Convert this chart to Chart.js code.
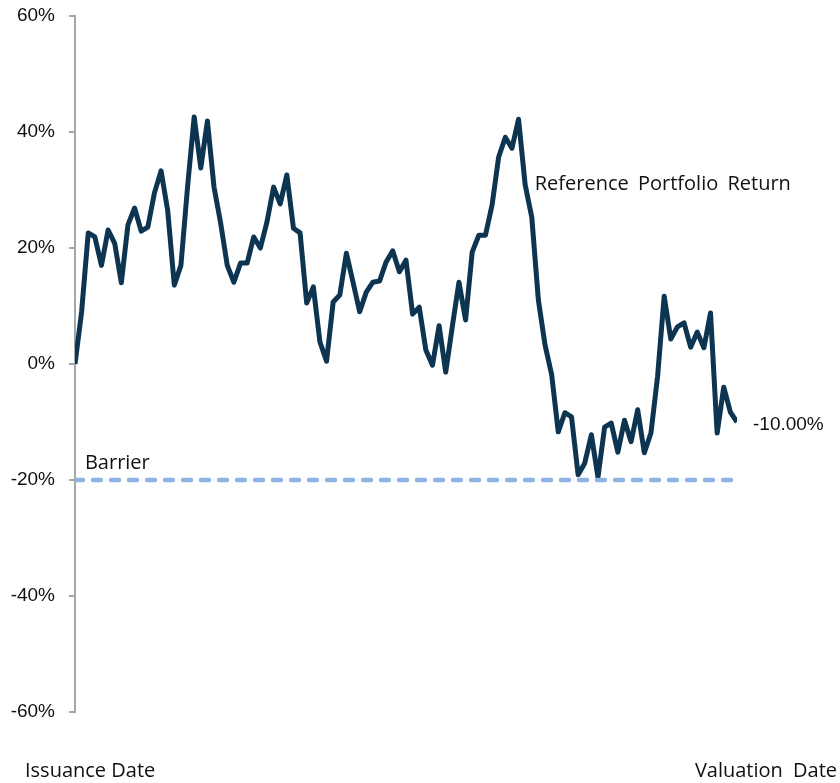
<!DOCTYPE html>
<html>
<head>
<meta charset="utf-8">
<script src="https://cdn.jsdelivr.net/npm/chart.js@4"></script>
<style>
  html, body { margin: 0; padding: 0; background: #fff; }
  #wrap { width: 840px; height: 783px; position: relative; }
</style>
</head>
<body>
<div id="wrap"><canvas id="chart"></canvas></div>
<script>
// Reference portfolio return path, issuance (0) to valuation (100), in %
const returns = [
    0, 9, 22.6, 21.9, 17, 23.1, 20.8, 14, 24, 26.9,
    22.9, 23.6, 29.5, 33.3, 26.5, 13.6, 17, 30.5, 42.6, 33.8,
    41.9, 30.5, 24.3, 17, 14.1, 17.4, 17.4, 21.9, 20, 24.5,
    30.5, 27.6, 32.6, 23.4, 22.6, 10.5, 13.3, 3.8, 0.5, 10.7,
    11.9, 19.1, 14.1, 9.0, 12.4, 14.1, 14.3, 17.6, 19.5, 15.9,
    17.9, 8.6, 9.8, 2.4, -0.2, 6.6, -1.4, 6.5, 14.1, 7.6,
    19.3, 22.2, 22.2, 27.4, 35.7, 39.1, 37.2, 42.2, 30.9, 25.3,
    11, 3.3, -1.8, -11.7, -8.4, -9.1, -19.1, -17.1, -12.2, -19.5,
    -10.9, -10.2, -15.2, -9.7, -13.4, -7.9, -15.3, -11.9, -2.2, 11.7,
    4.3, 6.4, 7.1, 2.9, 5.5, 2.8, 8.8, -11.9, -4.0, -8.3, -10
];
const barrierLevel = -20;
const yTicks = [-60, -40, -20, 0, 20, 40, 60];
const seriesLabel = 'Reference Portfolio Return';
const barrierLabel = 'Barrier';
const startLabel = 'Issuance Date';
const endLabel = 'Valuation Date';

const lastIdx = returns.length - 1;
const finalReturn = returns[lastIdx];

const annotations = {
    id: 'annotations',
    afterDatasetsDraw(chart) {
        const { ctx, chartArea, scales } = chart;
        const x = scales.x, y = scales.y;
        const spacing = (px) => { if ('wordSpacing' in ctx) ctx.wordSpacing = px; };
        ctx.save();
        ctx.fillStyle = '#111';
        ctx.textAlign = 'left';
        ctx.font = '20px "Open Sans"';

        // series label next to the second peak
        spacing('4px');
        ctx.textBaseline = 'middle';
        ctx.fillText(seriesLabel, x.getPixelForValue(69) + 3, y.getPixelForValue(31));

        // barrier label
        spacing('0px');
        ctx.textBaseline = 'alphabetic';
        ctx.fillText(barrierLabel, x.getPixelForValue(1.5), y.getPixelForValue(barrierLevel) - 11);

        // date labels under the plot
        ctx.fillText(startLabel, chartArea.left - 50, chartArea.bottom + 65);
        spacing('5px');
        ctx.textAlign = 'right';
        ctx.fillText(endLabel, chartArea.right + 100, chartArea.bottom + 65);

        // final value
        spacing('0px');
        ctx.textAlign = 'left';
        ctx.textBaseline = 'middle';
        ctx.font = '19px "Liberation Sans"';
        ctx.fillText(finalReturn.toFixed(2) + '%', x.getPixelForValue(lastIdx) + 16, y.getPixelForValue(finalReturn) + 3);
        ctx.restore();
    }
};

const ctx = document.getElementById('chart').getContext('2d');
new Chart(ctx, {
    type: 'line',
    data: {
        datasets: [{
            label: seriesLabel,
            data: returns.map((v, i) => ({ x: i, y: v })),
            borderColor: '#0D3451',
            borderWidth: 5,
            borderJoinStyle: 'round',
            pointRadius: 0,
            tension: 0,
            order: 2
        }, {
            label: barrierLabel,
            data: [{ x: 0, y: barrierLevel }, { x: lastIdx, y: barrierLevel }],
            borderColor: '#8DB3E2',
            borderWidth: 4.5,
            borderDash: [8, 10],
            borderCapStyle: 'round',
            pointRadius: 0,
            order: 1
        }]
    },
    options: {
        responsive: true,
        maintainAspectRatio: false,
        animation: false,
        layout: { padding: { left: 0, right: 103, top: 16, bottom: 71 } },
        plugins: {
            legend: { display: false },
            tooltip: { enabled: false }
        },
        scales: {
            x: {
                type: 'linear',
                min: 0,
                max: lastIdx,
                display: false
            },
            y: {
                min: yTicks[0],
                max: yTicks[yTicks.length - 1],
                afterFit: (scale) => {
                    scale.width = 75;
                    scale.paddingTop = 0;
                    scale.paddingBottom = 0;
                },
                afterBuildTicks: (scale) => { scale.ticks = yTicks.map(v => ({ value: v })); },
                ticks: {
                    callback: (v) => v + '%',
                    color: '#111',
                    padding: 14,
                    font: { family: '"Liberation Sans"', size: 19 }
                },
                grid: {
                    drawOnChartArea: false,
                    drawTicks: true,
                    tickLength: 6,
                    color: '#A6A6A6',
                    lineWidth: 2
                },
                border: { display: true, color: '#A6A6A6', width: 2 }
            }
        }
    },
    plugins: [annotations]
});
</script>
</body>
</html>
